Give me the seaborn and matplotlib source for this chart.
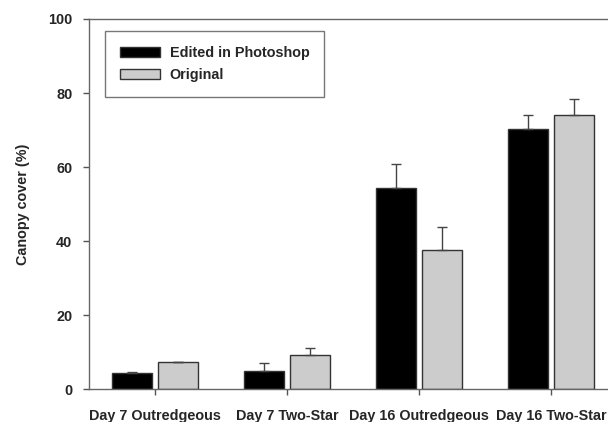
import matplotlib
matplotlib.use("Agg")
import matplotlib.pyplot as plt
import seaborn as sns
import pandas as pd
import numpy as np

categories = ["Day 7 Outredgeous", "Day 7 Two-Star", "Day 16 Outredgeous", "Day 16 Two-Star"]
series_names = ["Edited in Photoshop", "Original"]
edited_vals = [4.5, 4.9, 54.3, 70.4]
original_vals = [7.3, 9.2, 37.5, 74.1]
edited_err = [0.3, 2.1, 6.6, 3.7]
original_err = [0.2, 1.9, 6.3, 4.3]
y_ticks = [0, 20, 40, 60, 80, 100]

sns.set_theme(style="white")
plt.rcParams["font.family"] = ["Liberation Sans", "DejaVu Sans"]
plt.rcParams["font.weight"] = "bold"

df = pd.DataFrame({
    "category": categories * 2,
    "series": [series_names[0]] * 4 + [series_names[1]] * 4,
    "value": edited_vals + original_vals,
})

fig = plt.figure(figsize=(6.08, 4.22), dpi=100)
ax = fig.add_axes([89 / 608, 1 - 389.3 / 422, 528 / 608, 370.3 / 422])

sns.barplot(data=df, x="category", y="value", hue="series", order=categories,
            hue_order=series_names, palette=["#000000", "#cccccc"],
            width=0.7, gap=0.15, errorbar=None, ax=ax,
            edgecolor="#333333", linewidth=1.0, legend=True)

# error bars (upward only) placed on the drawn bars
bars = [p for p in ax.patches if p.get_height() > 0]
errs = edited_err + original_err
for p, e in zip(bars, errs):
    xc = p.get_x() + p.get_width() / 2
    ax.errorbar(xc, p.get_height(), yerr=[[0], [e]], fmt="none",
                ecolor="#444444", elinewidth=1.0, capsize=3.6, capthick=1.0, zorder=5)

ax.set_xlim(-0.5, 3.5)
ax.set_ylim(0, 100)
ax.set_yticks(y_ticks)
ax.set_xlabel("")
ax.set_ylabel("Canopy cover (%)", fontsize=10.4, fontweight="bold", labelpad=13)
ax.tick_params(axis="both", which="both", direction="out", length=4, width=1,
               color="#555555", labelsize=10.4, left=True, bottom=True)
ax.tick_params(axis="x", pad=10.5)
ax.tick_params(axis="y", pad=8)
for lab in ax.get_xticklabels() + ax.get_yticklabels():
    lab.set_fontweight("bold")
for s in ax.spines.values():
    s.set_color("#666666")
    s.set_linewidth(1.0)

handles, labels = ax.get_legend_handles_labels()
leg = ax.legend(handles, labels, loc="upper left", bbox_to_anchor=(0.031, 0.967),
                borderaxespad=0, frameon=True, fancybox=False, edgecolor="#555555",
                prop={"weight": "bold", "size": 10.4}, handlelength=2.8, handleheight=0.7,
                handletextpad=0.65, labelspacing=0.6, borderpad=1.0)
leg.get_frame().set_linewidth(1.0)

fig.savefig("out.png", dpi=100)
